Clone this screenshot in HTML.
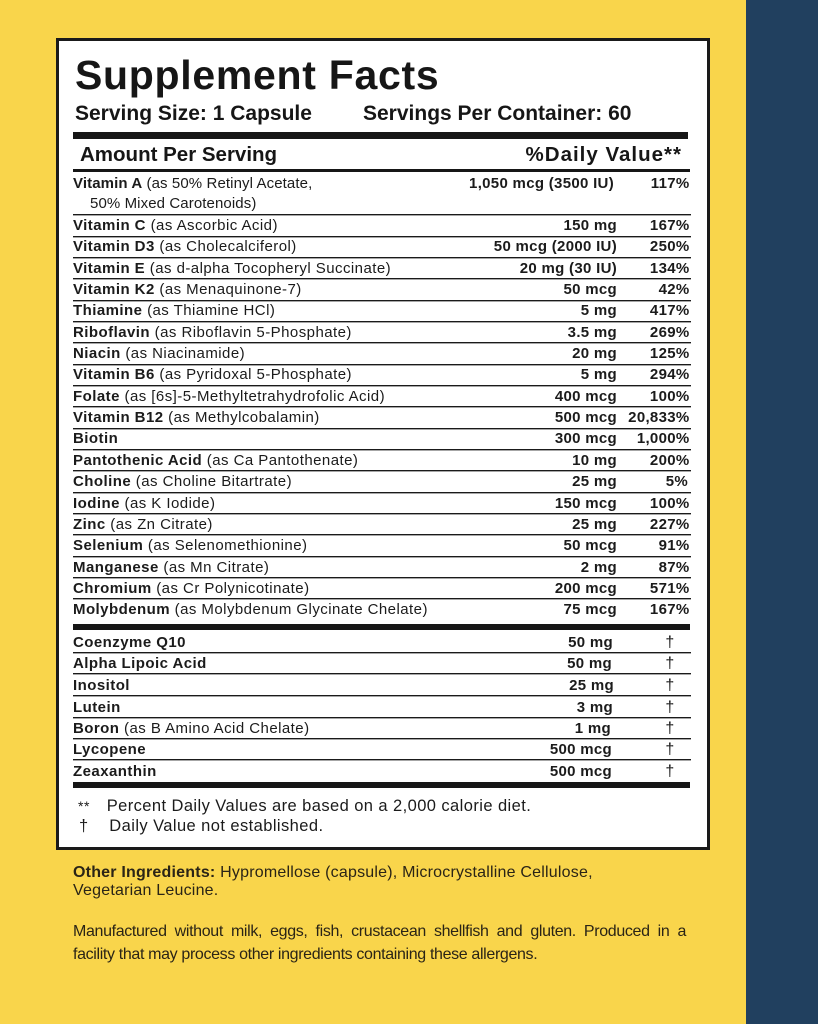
<!DOCTYPE html>
<html>
<head>
<meta charset="utf-8">
<style>
*{margin:0;padding:0;box-sizing:border-box;}
html,body{width:818px;height:1024px;overflow:hidden;}
body{position:relative;background:#F9D54B;font-family:"Liberation Sans",Arial,Helvetica,sans-serif;color:#1b1b1b;}
.blue{position:absolute;left:746px;top:0;width:72px;height:1024px;background:#21405F;}
.box{position:absolute;left:56px;top:38px;width:654px;height:812px;background:#fff;border:3px solid #1a1a1a;}
.a{position:absolute;white-space:nowrap;}
.title{left:75px;top:49.8px;font-size:41px;line-height:50px;font-weight:bold;letter-spacing:0.7px;color:#161616;}
.serv{top:101.7px;font-size:21px;line-height:24px;font-weight:bold;color:#161616;}
.hdr{top:143.4px;font-size:20.5px;line-height:24px;font-weight:bold;color:#161616;}
.bar{position:absolute;left:73px;width:617px;background:#161616;}
.ln{position:absolute;left:73px;width:617.5px;height:1px;background:#1a1a1a;box-shadow:0 1px 0 rgba(0,0,0,0.35);}
.r{position:absolute;font-size:15px;line-height:20px;white-space:nowrap;letter-spacing:0.45px;color:#1b1b1b;}
.lb{left:73px;}
.lb b{font-weight:bold;}
.am{right:201px;font-weight:bold;text-align:right;letter-spacing:0.3px;}
.am2{right:205px;font-weight:bold;text-align:right;letter-spacing:0.3px;}
.dv{right:128.5px;font-weight:bold;text-align:right;letter-spacing:0.3px;}
.dg{left:662px;width:16px;text-align:center;font-size:16px;}
.fn{position:absolute;font-size:16.5px;line-height:20px;white-space:nowrap;letter-spacing:0.42px;color:#1b1b1b;}
.oi{position:absolute;left:73px;top:864.4px;font-size:16px;line-height:18px;letter-spacing:0.21px;color:#2a2416;white-space:nowrap;}
.mf1{position:absolute;left:73px;top:920px;width:613px;font-size:16px;line-height:23.4px;letter-spacing:-0.35px;color:#2a2416;text-align:justify;text-align-last:justify;white-space:nowrap;}
.mf2{position:absolute;left:73px;top:943.4px;font-size:16px;line-height:23.4px;letter-spacing:-0.35px;color:#2a2416;white-space:nowrap;}
</style>
</head>
<body>
<div class="blue"></div>
<div class="box"></div>

<div class="a title">Supplement Facts</div>
<div class="a serv" style="left:75px;">Serving Size: 1 Capsule</div>
<div class="a serv" style="left:363px;">Servings Per Container: 60</div>

<div class="bar" style="top:132px;height:7px;width:615px;"></div>

<div class="a hdr" style="left:80px;">Amount Per Serving</div>
<div class="a hdr" style="right:136px;letter-spacing:1px;">%Daily Value**</div>

<div class="bar" style="top:169px;height:3px;"></div>

<!-- Vitamin A -->
<div class="r lb" style="top:174.1px;letter-spacing:0.1px;"><b>Vitamin A</b> (as 50% Retinyl Acetate,</div>
<div class="r" style="left:90px;top:194.1px;letter-spacing:0.1px;">50% Mixed Carotenoids)</div>
<div class="r" style="right:204px;top:174.1px;font-weight:bold;letter-spacing:0.3px;">1,050 mcg (3500 IU)</div>
<div class="r dv" style="top:174.1px;">117%</div>

<!-- lines section 1 -->
<div class="ln" style="top:214px"></div>
<div class="ln" style="top:236px"></div>
<div class="ln" style="top:257px"></div>
<div class="ln" style="top:278px"></div>
<div class="ln" style="top:300px"></div>
<div class="ln" style="top:321px"></div>
<div class="ln" style="top:342px"></div>
<div class="ln" style="top:364px"></div>
<div class="ln" style="top:385px"></div>
<div class="ln" style="top:406px"></div>
<div class="ln" style="top:428px"></div>
<div class="ln" style="top:449px"></div>
<div class="ln" style="top:470px"></div>
<div class="ln" style="top:492px"></div>
<div class="ln" style="top:513px"></div>
<div class="ln" style="top:534px"></div>
<div class="ln" style="top:556px"></div>
<div class="ln" style="top:577px"></div>
<div class="ln" style="top:598px"></div>

<div class="r lb" style="top:215.95px"><b>Vitamin C</b> (as Ascorbic Acid)</div>
<div class="r am" style="top:215.95px">150 mg</div>
<div class="r dv" style="top:215.95px">167%</div>

<div class="r lb" style="top:237.3px"><b>Vitamin D3</b> (as Cholecalciferol)</div>
<div class="r am" style="top:237.3px">50 mcg (2000 IU)</div>
<div class="r dv" style="top:237.3px">250%</div>

<div class="r lb" style="top:258.65px"><b>Vitamin E</b> (as d-alpha Tocopheryl Succinate)</div>
<div class="r am" style="top:258.65px">20 mg (30 IU)</div>
<div class="r dv" style="top:258.65px">134%</div>

<div class="r lb" style="top:280px"><b>Vitamin K2</b> (as Menaquinone-7)</div>
<div class="r am" style="top:280px">50 mcg</div>
<div class="r dv" style="top:280px">42%</div>

<div class="r lb" style="top:301.35px"><b>Thiamine</b> (as Thiamine HCl)</div>
<div class="r am" style="top:301.35px">5 mg</div>
<div class="r dv" style="top:301.35px">417%</div>

<div class="r lb" style="top:322.7px"><b>Riboflavin</b> (as Riboflavin 5-Phosphate)</div>
<div class="r am" style="top:322.7px">3.5 mg</div>
<div class="r dv" style="top:322.7px">269%</div>

<div class="r lb" style="top:344.05px"><b>Niacin</b> (as Niacinamide)</div>
<div class="r am" style="top:344.05px">20 mg</div>
<div class="r dv" style="top:344.05px">125%</div>

<div class="r lb" style="top:365.4px"><b>Vitamin B6</b> (as Pyridoxal 5-Phosphate)</div>
<div class="r am" style="top:365.4px">5 mg</div>
<div class="r dv" style="top:365.4px">294%</div>

<div class="r lb" style="top:386.75px"><b>Folate</b> (as [6s]-5-Methyltetrahydrofolic Acid)</div>
<div class="r am" style="top:386.75px">400 mcg</div>
<div class="r dv" style="top:386.75px">100%</div>

<div class="r lb" style="top:408.1px"><b>Vitamin B12</b> (as Methylcobalamin)</div>
<div class="r am" style="top:408.1px">500 mcg</div>
<div class="r dv" style="top:408.1px">20,833%</div>

<div class="r lb" style="top:429.45px"><b>Biotin</b></div>
<div class="r am" style="top:429.45px">300 mcg</div>
<div class="r dv" style="top:429.45px">1,000%</div>

<div class="r lb" style="top:450.8px"><b>Pantothenic Acid</b> (as Ca Pantothenate)</div>
<div class="r am" style="top:450.8px">10 mg</div>
<div class="r dv" style="top:450.8px">200%</div>

<div class="r lb" style="top:472.15px"><b>Choline</b> (as Choline Bitartrate)</div>
<div class="r am" style="top:472.15px">25 mg</div>
<div class="r dv" style="top:472.15px;right:130px;">5%</div>

<div class="r lb" style="top:493.5px"><b>Iodine</b> (as K Iodide)</div>
<div class="r am" style="top:493.5px">150 mcg</div>
<div class="r dv" style="top:493.5px">100%</div>

<div class="r lb" style="top:514.85px"><b>Zinc</b> (as Zn Citrate)</div>
<div class="r am" style="top:514.85px">25 mg</div>
<div class="r dv" style="top:514.85px">227%</div>

<div class="r lb" style="top:536.2px"><b>Selenium</b> (as Selenomethionine)</div>
<div class="r am" style="top:536.2px">50 mcg</div>
<div class="r dv" style="top:536.2px">91%</div>

<div class="r lb" style="top:557.55px"><b>Manganese</b> (as Mn Citrate)</div>
<div class="r am" style="top:557.55px">2 mg</div>
<div class="r dv" style="top:557.55px">87%</div>

<div class="r lb" style="top:578.9px"><b>Chromium</b> (as Cr Polynicotinate)</div>
<div class="r am" style="top:578.9px">200 mcg</div>
<div class="r dv" style="top:578.9px">571%</div>

<div class="r lb" style="top:600.25px"><b>Molybdenum</b> (as Molybdenum Glycinate Chelate)</div>
<div class="r am" style="top:600.25px">75 mcg</div>
<div class="r dv" style="top:600.25px">167%</div>

<div class="bar" style="top:624px;height:6px;"></div>

<!-- section 2 lines -->
<div class="ln" style="top:652px"></div>
<div class="ln" style="top:673px"></div>
<div class="ln" style="top:695px"></div>
<div class="ln" style="top:717px"></div>
<div class="ln" style="top:738px"></div>
<div class="ln" style="top:759px"></div>

<div class="r lb" style="top:632.5px"><b>Coenzyme Q10</b></div>
<div class="r am2" style="top:632.5px">50 mg</div>
<div class="r dg" style="top:632.5px">†</div>

<div class="r lb" style="top:654.1px"><b>Alpha Lipoic Acid</b></div>
<div class="r am2" style="top:654.1px;right:206px;">50 mg</div>
<div class="r dg" style="top:654.1px">†</div>

<div class="r lb" style="top:675.8px"><b>Inositol</b></div>
<div class="r am2" style="top:675.8px;right:204px;">25 mg</div>
<div class="r dg" style="top:675.8px">†</div>

<div class="r lb" style="top:697.5px"><b>Lutein</b></div>
<div class="r am2" style="top:697.5px;right:205px;">3 mg</div>
<div class="r dg" style="top:697.5px">†</div>

<div class="r lb" style="top:718.8px"><b>Boron</b> (as B Amino Acid Chelate)</div>
<div class="r am2" style="top:718.8px;right:207px;">1 mg</div>
<div class="r dg" style="top:718.8px">†</div>

<div class="r lb" style="top:740.1px"><b>Lycopene</b></div>
<div class="r am2" style="top:740.1px;right:206px;">500 mcg</div>
<div class="r dg" style="top:740.1px">†</div>

<div class="r lb" style="top:761.6px"><b>Zeaxanthin</b></div>
<div class="r am2" style="top:761.6px;right:206px;">500 mcg</div>
<div class="r dg" style="top:761.6px">†</div>

<div class="bar" style="top:782px;height:6px;"></div>

<!-- footnotes -->
<div class="fn" style="left:78px;top:796px;font-size:14px;letter-spacing:0.5px;">**</div>
<div class="fn" style="left:106.7px;top:796px;">Percent Daily Values are based on a 2,000 calorie diet.</div>
<div class="fn" style="left:79px;top:816.3px;">†</div>
<div class="fn" style="left:109.3px;top:816.3px;">Daily Value not established.</div>

<!-- below box -->
<div class="oi"><b>Other Ingredients:</b> Hypromellose (capsule), Microcrystalline Cellulose,<br>Vegetarian Leucine.</div>
<div class="mf1">Manufactured without milk, eggs, fish, crustacean shellfish and gluten. Produced in a</div>
<div class="mf2">facility that may process other ingredients containing these allergens.</div>
</body>
</html>
